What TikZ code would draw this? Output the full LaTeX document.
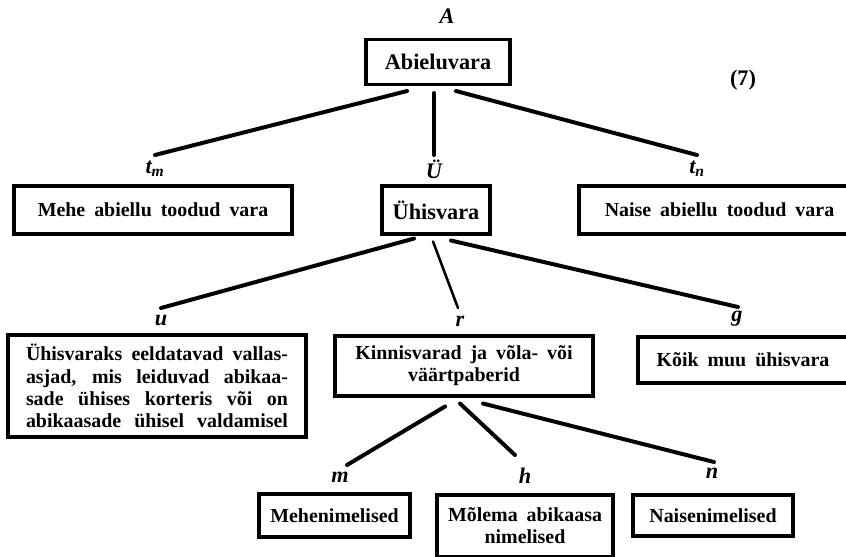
\documentclass[tikz,border=0pt]{standalone}
\usepackage{fontspec}
\setmainfont{Liberation Serif}[WordSpace=1.8]
\usepackage{tikz}
\usetikzlibrary{calc}
\newdimen\pxu \pxu=0.03cm
\newcommand{\treefont}{\fontsize{17}{19}\selectfont\bfseries}
\newcommand{\bigtreefont}{\fontsize{19}{21}\selectfont\bfseries}

\begin{document}
\begin{tikzpicture}[x=0.03cm, y=-0.03cm,
    box/.style={draw, line width=2.6pt, inner sep=0pt, align=center, font=\treefont},
    tag/.style={inner sep=0pt, font=\bigtreefont\itshape},
    edge/.style={line width=3.4pt, line cap=round}]
    \useasboundingbox (0,0) rectangle (846,556);

    \node[tag] (A) at (447,16) {A};
    \node[box, font=\bigtreefont, minimum width=144\pxu, minimum height=45\pxu] (abiel) at (438,62) {Abieluvara};
    \node[inner sep=0pt, font=\bigtreefont] (nr) at (743,80) {(7)};

    \node[tag] (tm) at (155,169) {t\textsubscript{m}};
    \node[tag] (U) at (434,169) {Ü};
    \node[tag] (tn) at (697,169) {t\textsubscript{n}};
    \draw[edge] ($(abiel.south)+(-31,5)$) -- ($(tm)+(0,-14)$);
    \draw[edge] ($(abiel.south)+(-4,7)$) -- ($(U)+(0,-14)$);
    \draw[edge] ($(abiel.south)+(18,5)$) -- ($(tn)+(0,-14)$);

    \node[box, minimum width=278\pxu, minimum height=48\pxu] (mehe) at (153,210) {Mehe abiellu toodud vara};
    \node[box, font=\bigtreefont, minimum width=108\pxu, minimum height=48\pxu] (uhis) at (436,210) {Ühisvara};
    \node[box, minimum width=281\pxu, minimum height=48\pxu] (naise) at (719.5,210) {Naise abiellu toodud vara};

    \node[tag] (u) at (161,321) {u};
    \node[tag] (r) at (460,321) {r};
    \node[tag] (g) at (737,319) {g};
    \draw[edge] ($(uhis.south)+(-22,3)$) -- ($(u)+(0,-13)$);
    \draw[edge, line width=2.2pt] ($(uhis.south)+(-3,6)$) -- ($(r)+(-2,-13)$);
    \draw[edge] ($(uhis.south)+(15,5)$) -- ($(g)+(1,-12)$);

    \node[box, minimum width=298\pxu, minimum height=102\pxu] (ueld) at (157,386)
        {\parbox{262\pxu}{\parfillskip=0pt Ühisvaraks eeldatavad vallas-\linebreak asjad, mis leiduvad abikaa-\linebreak sade ühises korteris või on\linebreak abikaasade ühisel valdamisel}};
    \node[box, minimum width=258\pxu, minimum height=60\pxu] (kinn) at (464,366) {Kinnisvarad ja võla- või\\väärtpaberid};
    \node[box, minimum width=222\pxu, minimum height=46\pxu] (koik) at (749,360) {\hspace*{-12\pxu}Kõik muu ühisvara};

    \node[tag] (m) at (340,477) {m};
    \node[tag] (h) at (525,476) {h};
    \node[tag] (n) at (712,473) {n};
    \draw[edge] ($(kinn.south)+(-19,9)$) -- ($(m)+(7,-12)$);
    \draw[edge] ($(kinn.south)+(-4,6)$) -- ($(h)+(-10,-21)$);
    \draw[edge] ($(kinn.south)+(19,6)$) -- ($(n)+(2,-11)$);

    \node[box, minimum width=151\pxu, minimum height=43\pxu] (mehen) at (334.5,515.5) {Mehenimelised};
    \node[box, minimum width=176\pxu, minimum height=62\pxu] (molema) at (525,526) {Mõlema abikaasa\\nimelised};
    \node[box, minimum width=160\pxu, minimum height=41\pxu] (naisen) at (713,515.5) {Naisenimelised};
\end{tikzpicture}
\end{document}
